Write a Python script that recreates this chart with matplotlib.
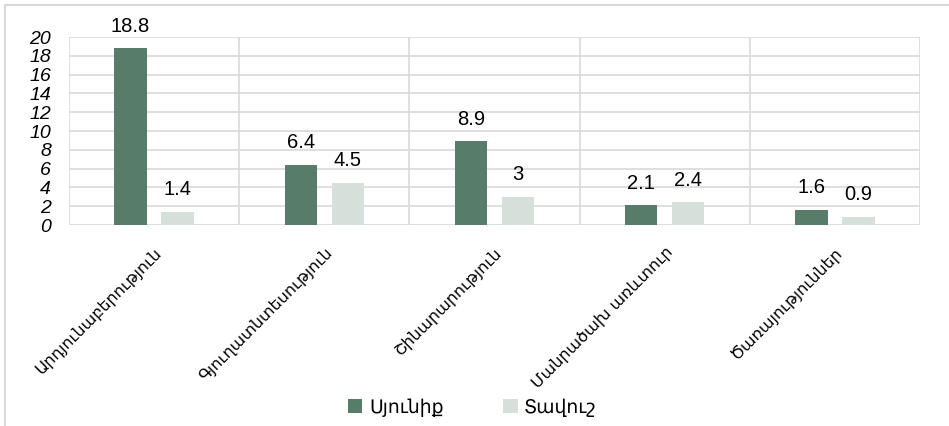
import matplotlib
matplotlib.use("Agg")
from matplotlib import pyplot as plt
from matplotlib.lines import Line2D
import numpy as np

plt.rcParams['font.family'] = ['Liberation Sans', 'DejaVu Sans']

categories = ["Արդյունաբերություն", "Գյուղատնտեսություն", "Շինարարություն",
              "Մանրածախ առևտուր", "Ծառայություններ"]
syunik = [18.8, 6.4, 8.9, 2.1, 1.6]
tavush = [1.4, 4.5, 3, 2.4, 0.9]
series_names = ["Սյունիք", "Տավուշ"]
yticks = list(range(0, 21, 2))

dark = "#577d6a"
light = "#d5e0da"
grid_col = "#d9d9d9"

fig = plt.figure(figsize=(9.49, 4.26), dpi=100)
ax = fig.add_axes([0.0727, 0.4718, 0.8967, 0.4413])

x = np.arange(len(categories))
w = 0.19
off = 0.138
b1 = ax.bar(x - off, syunik, w, color=dark, label=series_names[0], zorder=3)
b2 = ax.bar(x + off, tavush, w, color=light, label=series_names[1], zorder=3)

# data labels
for bars, vals in ((b1, syunik), (b2, tavush)):
    for rect, v in zip(bars, vals):
        ax.annotate(f"{v:g}", (rect.get_x() + rect.get_width() / 2, v),
                    xytext=(0, 9), textcoords="offset points",
                    ha="center", va="bottom", fontsize=14.5, color="black")

ax.set_xlim(-0.5, len(categories) - 0.5)
ax.set_ylim(0, 20)
ax.set_yticks(yticks, [str(t) for t in yticks], family="Liberation Sans",
              style="italic", size=14)
ax.tick_params(axis="y", length=0, pad=13)

# horizontal grid + category separators
ax.grid(axis="y", color=grid_col, linewidth=1.2, zorder=0)
for xb in np.arange(-0.5, len(categories), 1.0):
    ax.axvline(xb, color=grid_col, linewidth=1.2, zorder=0)
for s in ax.spines.values():
    s.set_visible(False)

ax.set_xticks(x)
ax.set_xticklabels(categories, rotation=45, ha="right", rotation_mode="anchor",
                   fontsize=11.5, family=["DejaVu Sans"])
ax.tick_params(axis="x", length=0, pad=14)

# legend
fig.legend(handles=[b1, b2], labels=series_names, loc="center",
           bbox_to_anchor=(0.498, 0.044), ncol=2, frameon=False,
           handlelength=0.75, handleheight=0.75,
           handletextpad=0.35, columnspacing=3.2,
           prop={"family": ["DejaVu Sans"], "size": 13.5})

# outer chart frame (top and left)
fig.add_artist(Line2D([5 / 949, 1.0], [1 - 4.5 / 426, 1 - 4.5 / 426],
                      transform=fig.transFigure, color=grid_col, linewidth=1.5))
fig.add_artist(Line2D([5 / 949, 5 / 949], [0, 1 - 4.5 / 426],
                      transform=fig.transFigure, color=grid_col, linewidth=1.5))

fig.savefig("out.png", dpi=100)
